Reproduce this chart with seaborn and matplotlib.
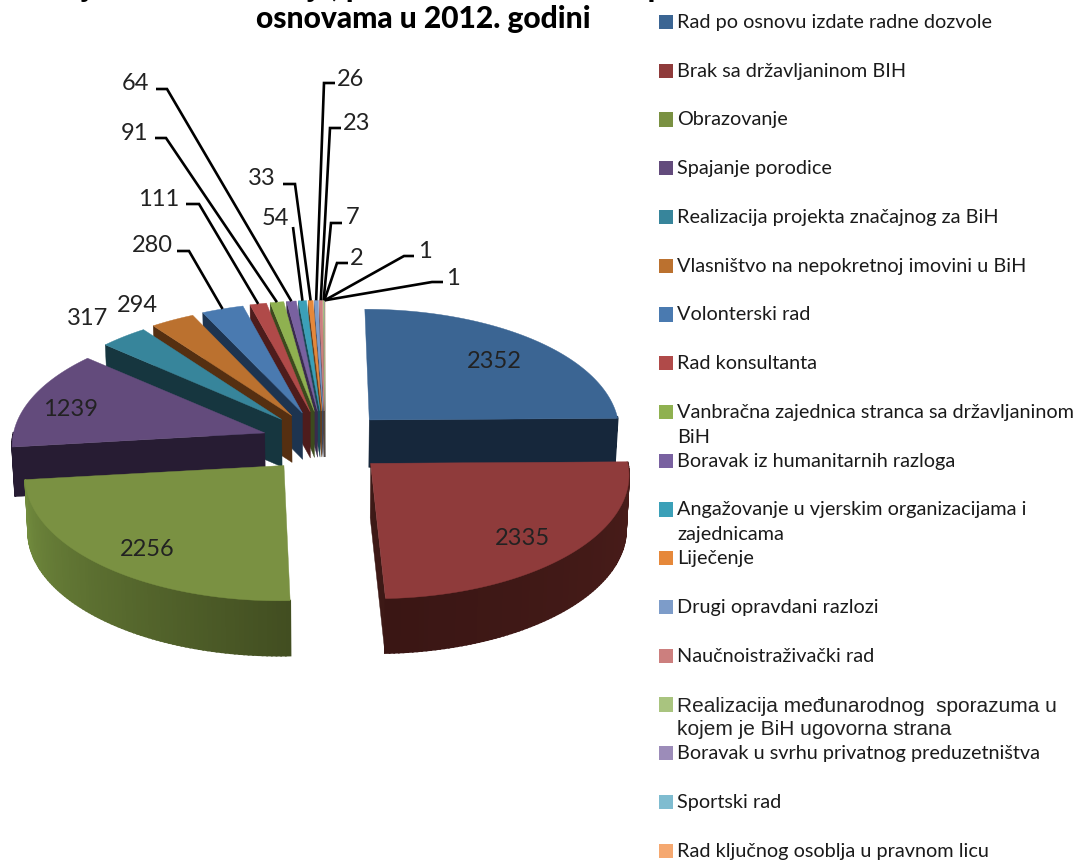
import matplotlib
matplotlib.use('Agg')
import matplotlib.pyplot as plt
import matplotlib.colors as mcolors
import numpy as np
import seaborn as sns

categories = ['Rad po osnovu izdate radne dozvole', 'Brak sa državljaninom BIH', 'Obrazovanje',
              'Spajanje porodice', 'Realizacija projekta značajnog za BiH',
              'Vlasništvo na nepokretnoj imovini u BiH', 'Volonterski rad', 'Rad konsultanta',
              'Vanbračna zajednica stranca sa državljaninom\nBiH', 'Boravak iz humanitarnih razloga',
              'Angažovanje u vjerskim organizacijama i\nzajednicama', 'Liječenje',
              'Drugi opravdani razlozi', 'Naučnoistraživački rad',
              'Realizacija međunarodnog  sporazuma u\nkojem je BiH ugovorna strana',
              'Boravak u svrhu privatnog preduzetništva', 'Sportski rad',
              'Rad ključnog osoblja u pravnom licu']
values = [2352, 2335, 2256, 1239, 317, 294, 280, 111, 91, 64, 54, 33, 26, 23, 7, 2, 1, 1]
top_colors = ['#3b6593', '#8f3b3b', '#7a9142', '#634b7c', '#37859b', '#bb712f', '#4a7ab0', '#b04a49',
              '#8fb150', '#7961a0', '#3ba0b8', '#e6883a', '#7d9cc9', '#cc7f7e', '#a9c47f', '#9c8cb9',
              '#7fbcd0', '#f5a870']
side_colors = ['#16273b', '#3d1916', '#434f22', '#271c33', '#16363f', '#552f11', '#1d3450', '#4e1c1c',
               '#3c4a1e', '#3a2b4d', '#1a4a55', '#6a3d18', '#3a4a62', '#5e3a3a', '#4e5b3a', '#483f56',
               '#3a5761', '#714d33']
title_lines = ['Broj izdatih odobrenja, privremenih boravaka po različitim', 'osnovama u 2012. godini']

# (label index, label x, label y, elbow start x, elbow end x, elbow y)
leaders = [(9, 135, 82, 156, 167, 89), (8, 135, 132, 155, 166, 138), (7, 159, 198, 186, 199, 204),
           (6, 152, 244, 177, 189, 251), (11, 262, 177, 283, 295, 184), (10, 275, 217, 293, 293, 227),
           (12, 351, 78, 335, 324, 83), (13, 357, 122, 341, 330, 128), (14, 353, 216, 342, 331, 223),
           (15, 357, 257, 348, 337, 263), (16, 425, 250, 414, 404, 256), (17, 453, 277, 443, 432, 282)]
plain_labels = [(0, 494, 360), (1, 522, 537), (2, 147, 548), (3, 71, 408), (4, 88, 317), (5, 137, 304)]

CX, CY = 325, 442
EX, EY = 63, 31
KP = 0.1


def project(theta, r, mid):
    # theta clockwise from 12 o'clock, r=0 is the wedge apex
    Y = -r * np.cos(theta)
    ydir = -np.cos(mid)
    rx = 253 + 6 * ydir
    x = CX + EX * np.sin(mid) * (1 + KP * Y) + rx * r * np.sin(theta) * (1 + 0.08 * Y)
    y = CY - EY * np.cos(mid) + Y * 123 * (1 + KP * Y)
    return x, y


def lower(x, y, mid):
    depth = 51 + 5 * (-np.cos(mid))
    return CX + (x - CX) * 0.99, y + depth


def draw_wedge(ax, i, start, end):
    mid = (start + end) / 2
    top = top_colors[i]
    side = side_colors[i]
    th = np.linspace(start, end, max(int((end - start) * 60), 4))
    xs, ys = project(th, 1, mid)
    ax0, ay0 = project(start, 0, mid)
    bx0, by0 = lower(ax0, ay0, mid)

    # flat cut faces that look toward the viewer
    for ang, show in [(start, start > np.pi), (end, end <= np.pi)]:
        if show:
            ox, oy = project(ang, 1, mid)
            px, py = lower(ox, oy, mid)
            ax.fill([ax0, ox, px, bx0], [ay0, oy, py, by0], color=side, lw=0.3)

    # curved rim with shading, only the front half shows
    if i == 1:
        light, dark = '#3a1614', '#4a1d1a'
    elif i == 2:
        light, dark = '#424e21', '#728c3e'
    else:
        light, dark = side, side
    c0 = np.array(mcolors.to_rgb(light))
    c1 = np.array(mcolors.to_rgb(dark))
    lx, ly = lower(xs, ys, mid)
    for k in range(len(th) - 1):
        if np.pi / 2 * 0.98 < th[k] < 1.5 * np.pi:
            f = k / (len(th) - 2)
            if i == 1:
                f = 1 - f
            ax.fill([xs[k], xs[k + 1], lx[k + 1], lx[k]], [ys[k], ys[k + 1], ly[k + 1], ly[k]],
                    color=tuple(c0 + (c1 - c0) * f), lw=1.3)

    ax.fill(np.r_[ax0, xs], np.r_[ay0, ys], color=top, lw=0.3)


sns.set_theme(style='white')
plt.rcParams['font.family'] = ['Lato', 'DejaVu Sans']

fig = plt.figure(figsize=(10.82, 8.61), dpi=100)
ax = fig.add_axes([0, 0, 1, 1])
ax.set_xlim(0, 1082)
ax.set_ylim(861, 0)
ax.set_axis_off()

edges = np.r_[0, np.cumsum(values)] / sum(values) * 2 * np.pi
# back wedges first, the big front ones last
for i in list(range(len(values) - 1, 2, -1)) + [0, 2, 1]:
    draw_wedge(ax, i, edges[i], edges[i + 1])

text_color = '#222222'
for i, x, y, x0, x1, yl in leaders:
    mid = (edges[i] + edges[i + 1]) / 2
    ex, ey = project(mid, 1, mid)
    ax.plot([x0, x1, ex], [yl, yl, ey], color='black', lw=1.9, solid_capstyle='butt', solid_joinstyle='miter')
    ax.text(x, y + 1.5, str(values[i]), ha='center', va='center', fontsize=17, color=text_color)
for i, x, y in plain_labels:
    ax.text(x, y + 1.5, str(values[i]), ha='center', va='center', fontsize=17, color=text_color)

# title, first line runs off the top of the picture in the original
ax.text(423, -3, title_lines[0], ha='center', va='baseline', fontsize=21.6, fontweight='black', color='black')
ax.text(423, 28, title_lines[1], ha='center', va='baseline', fontsize=21.6, fontweight='black', color='black')

# legend
legend_y = [22 + 48.75 * i for i in range(len(categories))]
sns.scatterplot(x=[666] * len(categories), y=legend_y, hue=categories, palette=top_colors, marker='s',
                s=105, linewidth=0, legend=False, ax=ax)
for i, (name, y) in enumerate(zip(categories, legend_y)):
    if i == 14:
        ax.text(677, y - 8, name, ha='left', va='top', fontsize=15, color='#222222', linespacing=1.28,
                family=['Liberation Sans'])
    else:
        ax.text(677, y - 8, name, ha='left', va='top', fontsize=14.35, color='#1a1a1a', linespacing=1.55)

ax.set_xlim(0, 1082)
ax.set_ylim(861, 0)
fig.savefig('out.png', dpi=100, facecolor='white')
